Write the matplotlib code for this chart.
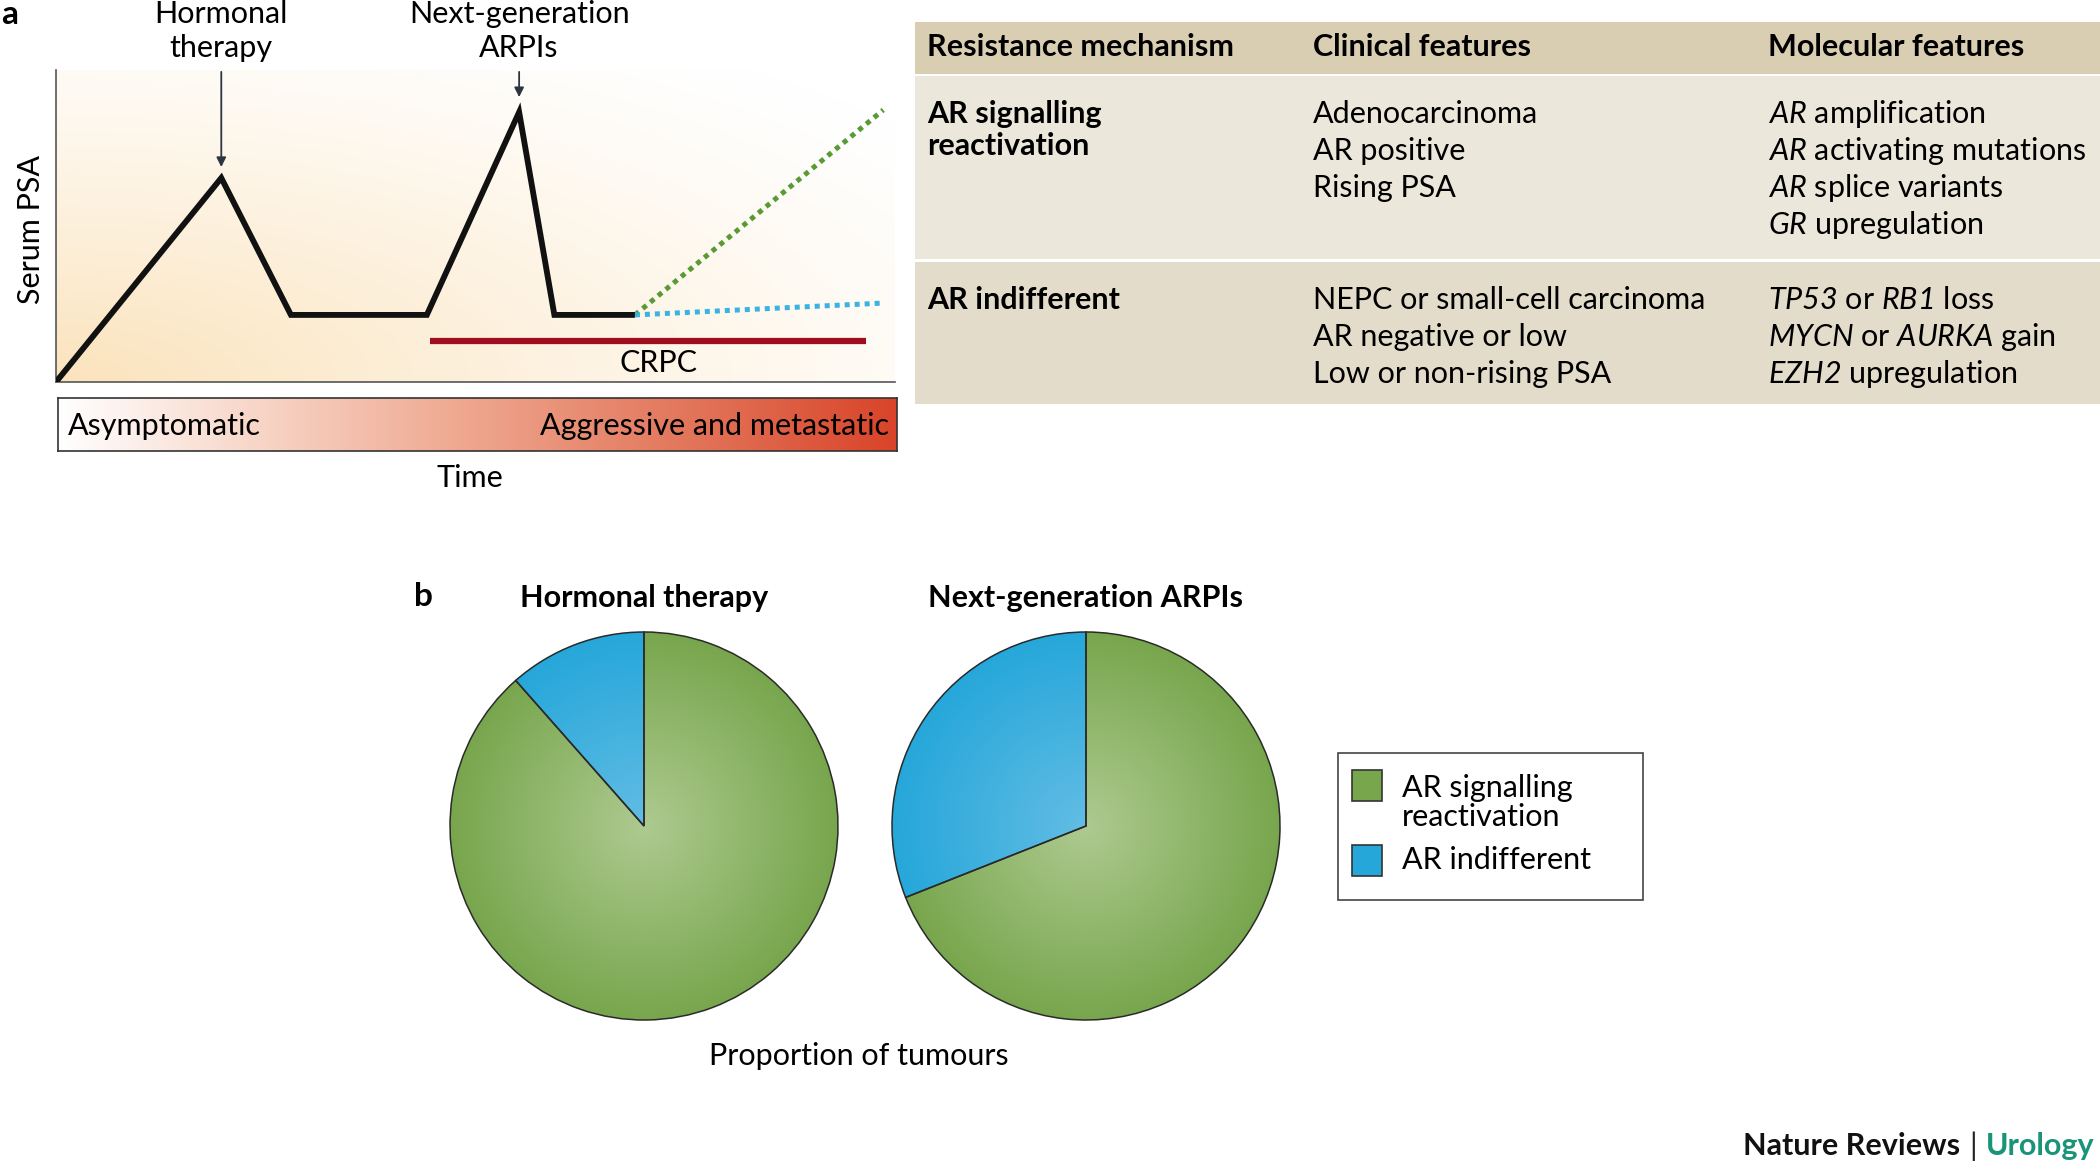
import numpy as np
import matplotlib
matplotlib.use("Agg")
import matplotlib.pyplot as plt
from matplotlib.patches import Rectangle
from matplotlib.colors import LinearSegmentedColormap, to_rgb

plt.rcParams['font.family'] = ['Lato', 'DejaVu Sans']
plt.rcParams['mathtext.fontset'] = 'custom'
plt.rcParams['mathtext.rm'] = 'Lato'
plt.rcParams['mathtext.it'] = 'Lato:italic'
plt.rcParams['mathtext.sf'] = 'Lato:italic'   # used for gene names (italic digits too)
plt.rcParams['mathtext.bf'] = 'Lato:bold'

W, H = 2100, 1162
FS = 22

# ---- panel a data (arbitrary units: time 0-100, PSA 0-100)
psa_time = [0, 19.7, 28.0, 44.2, 55.2, 59.4, 69.0]
psa_level = [0, 65.4, 21.5, 21.5, 86.5, 21.5, 21.5]
reactivation_time = [69.0, 98.6]
reactivation_level = [21.5, 87.2]
indifferent_time = [69.0, 98.6]
indifferent_level = [21.5, 25.3]
crpc_span = [44.6, 96.5]
crpc_level = 13.1
therapy_labels = ["Hormonal\ntherapy", "Next-generation\nARPIs"]
therapy_time = [19.7, 55.2]
therapy_tip = [68.9, 91.3]
stage_labels = ["Asymptomatic", "Aggressive and metastatic"]

# ---- table
table_header = ["Resistance mechanism", "Clinical features", "Molecular features"]
mechanisms = [["AR signalling", "reactivation"], ["AR indifferent"]]
clinical = [["Adenocarcinoma", "AR positive", "Rising PSA"],
            ["NEPC or small-cell carcinoma", "AR negative or low", "Low or non-rising PSA"]]
molecular = [[r"$\mathsf{AR}$ amplification", r"$\mathsf{AR}$ activating mutations",
              r"$\mathsf{AR}$ splice variants", r"$\mathsf{GR}$ upregulation"],
             [r"$\mathsf{TP53}$ or $\mathsf{RB1}$ loss", r"$\mathsf{MYCN}$ or $\mathsf{AURKA}$ gain",
              r"$\mathsf{EZH2}$ upregulation"]]

# ---- panel b data (% of tumours)
pie_titles = ["Hormonal therapy", "Next-generation ARPIs"]
pie_labels = ["AR signalling\nreactivation", "AR indifferent"]
pie_values = [[88.5, 11.5], [69.0, 31.0]]

green, green_c = "#78a64d", "#adca90"
blue, blue_c = "#26a7da", "#62bde4"


def frac(x0, y0, x1, y1):
    return [x0 / W, 1 - y1 / H, (x1 - x0) / W, (y1 - y0) / H]


fig = plt.figure(figsize=(21, 11.62), dpi=100)
bg = fig.add_axes([0, 0, 1, 1])
bg.set_xlim(0, W)
bg.set_ylim(H, 0)
bg.axis('off')

# ================= panel a
ax = fig.add_axes(frac(56, 70, 895, 382))
yy, xx = np.mgrid[0:1:200j, 0:1:300j]
a = np.clip(1 - np.sqrt(xx ** 2 + yy ** 2) / 1.3, 0, 1) ** 1.3
peach = np.array(to_rgb("#fbe3bc"))
img = np.ones((200, 300, 3)) * (1 - a[..., None]) + peach * a[..., None]
ax.imshow(img, extent=[0, 100, 0, 100], origin='lower', aspect='auto', zorder=0)
ax.set_xlim(0, 100)
ax.set_ylim(0, 100)
for s in ['top', 'right']:
    ax.spines[s].set_visible(False)
for s in ['left', 'bottom']:
    ax.spines[s].set_color('#555555')
    ax.spines[s].set_linewidth(1.2)
ax.set_xticks([])
ax.set_yticks([])

ax.plot(psa_time, psa_level, color='#111111', lw=4.2, solid_joinstyle='miter',
        solid_capstyle='butt', zorder=3)
ax.plot(reactivation_time, reactivation_level, color='#5a9a33', lw=3.6,
        linestyle=(0, (1, 1)), zorder=2)
ax.plot(indifferent_time, indifferent_level, color='#3ab2e3', lw=3.6,
        linestyle=(0, (1, 1)), zorder=2)
ax.plot(crpc_span, [crpc_level] * 2, color='#a00d1f', lw=4.5, solid_capstyle='butt')
ax.text(np.mean(crpc_span) + 1.3, 6.1, "CRPC", ha='center', va='center', fontsize=FS)

for lab, t, tip in zip(therapy_labels, therapy_time, therapy_tip):
    ax.annotate('', xy=(t, tip), xytext=(t, 99.4), annotation_clip=False,
                arrowprops=dict(arrowstyle='-|>', color='#2b3640', lw=1.3,
                                mutation_scale=14, shrinkA=0, shrinkB=0))
    ax.text(t, 112.4, lab, ha='center', va='center', fontsize=FS,
            linespacing=1.25, clip_on=False)

bg.text(31, 230, "Serum PSA", rotation=90, ha='center', va='center', fontsize=FS)
bg.text(10, 14, "a", ha='center', va='center', fontsize=24, fontweight='bold')

# stage bar
cax = fig.add_axes(frac(58, 398, 897, 451))
cmap = LinearSegmentedColormap.from_list(
    "stage", ["#ffffff", "#f7d3c4", "#eea48c", "#e2765b", "#d9442a"])
cax.imshow(np.linspace(0, 1, 256)[None, :], cmap=cmap, aspect='auto',
           extent=[0, 1, 0, 1])
cax.set_xticks([])
cax.set_yticks([])
for s in cax.spines.values():
    s.set_color('#333333')
    s.set_linewidth(1.2)
cax.text(0.012, 0.47, stage_labels[0], ha='left', va='center', fontsize=FS,
         transform=cax.transAxes)
cax.text(0.99, 0.47, stage_labels[1], ha='right', va='center', fontsize=FS,
         transform=cax.transAxes)
bg.text(470, 478, "Time", ha='center', va='center', fontsize=FS)

# ================= table
bg.add_patch(Rectangle((915, 22), 1185, 52, color='#d9cdb2', lw=0))
bg.add_patch(Rectangle((915, 76), 1185, 183, color='#ece7db', lw=0))
bg.add_patch(Rectangle((915, 262), 1185, 142, color='#e3dcca', lw=0))
col_x = [927, 1313, 1768]
for x, h in zip(col_x, table_header):
    bg.text(x, 47, h, ha='left', va='center', fontsize=FS, fontweight='bold')
row_y = [114, 300]
dy = 37
for r in range(2):
    for i, line in enumerate(mechanisms[r]):
        bg.text(col_x[0], row_y[r] + i * 32, line, ha='left', va='center',
                fontsize=FS, fontweight='bold')
    for i, line in enumerate(clinical[r]):
        bg.text(col_x[1], row_y[r] + i * dy, line, ha='left', va='center', fontsize=FS)
    for i, line in enumerate(molecular[r]):
        bg.text(col_x[2], row_y[r] + i * dy, line, ha='left', va='center', fontsize=FS)

# ================= panel b
bg.text(423, 596, "b", ha='center', va='center', fontsize=24, fontweight='bold')
pie_cx = [644, 1086]
cy, r = 826, 194
n = 400
gy, gx = np.mgrid[-1:1:n * 1j, -1:1:n * 1j]
rad = np.clip(np.sqrt(gx ** 2 + gy ** 2), 0, 1)[..., None]


def radial(c_in, c_out):
    return np.array(to_rgb(c_in)) * (1 - rad) + np.array(to_rgb(c_out)) * rad


for cx, vals, title in zip(pie_cx, pie_values, pie_titles):
    m = 1.02
    pax = fig.add_axes(frac(cx - r * m, cy - r * m, cx + r * m, cy + r * m))
    wedges, _ = pax.pie(vals, colors=[green, blue], startangle=90, counterclock=False,
                        wedgeprops=dict(edgecolor='#2a2a2a', linewidth=1.1))
    for w, (ci, co) in zip(wedges, [(green_c, green), (blue_c, blue)]):
        im = pax.imshow(radial(ci, co), extent=[-1, 1, -1, 1], origin='lower', zorder=0.5)
        im.set_clip_path(w)
        w.set_facecolor('none')
        w.set_zorder(2)
    pax.set_xlim(-m, m)
    pax.set_ylim(-m, m)
    pax.set_aspect('equal')
    pax.axis('off')
    bg.text(cx, 598, title, ha='center', va='center', fontsize=FS, fontweight='bold')

bg.text(859, 1056, "Proportion of tumours", ha='center', va='center', fontsize=FS)

# legend
bg.add_patch(Rectangle((1338, 753), 305, 147, fc='white', ec='#444444', lw=1.2))
for (y, lab, col) in zip([785.5, 860], pie_labels, [green, blue]):
    bg.add_patch(Rectangle((1352, y - 15.5), 30, 31, fc=col, ec='#333333', lw=1.2))
lines0 = pie_labels[0].split("\n")
bg.text(1402, 788, lines0[0], ha='left', va='center', fontsize=FS)
bg.text(1402, 817, lines0[1], ha='left', va='center', fontsize=FS)
bg.text(1402, 860, pie_labels[1], ha='left', va='center', fontsize=FS)

# footer: place pieces right to left using measured widths
renderer = fig.canvas.get_renderer()
to_px = bg.transData.inverted()
x_right = 2094
for txt, kw in [("Urology", dict(fontweight='bold', color='#1a9478')),
                ("|", dict(color='#222222')),
                ("Nature Reviews", dict(fontweight='bold', color='#111111'))]:
    t = bg.text(x_right, 1146, txt, ha='right', va='center', fontsize=22, **kw)
    bb = t.get_window_extent(renderer)
    x0 = to_px.transform((bb.x0, bb.y0))[0]
    x_right = x0 - 9

fig.savefig("out.png", dpi=100)
